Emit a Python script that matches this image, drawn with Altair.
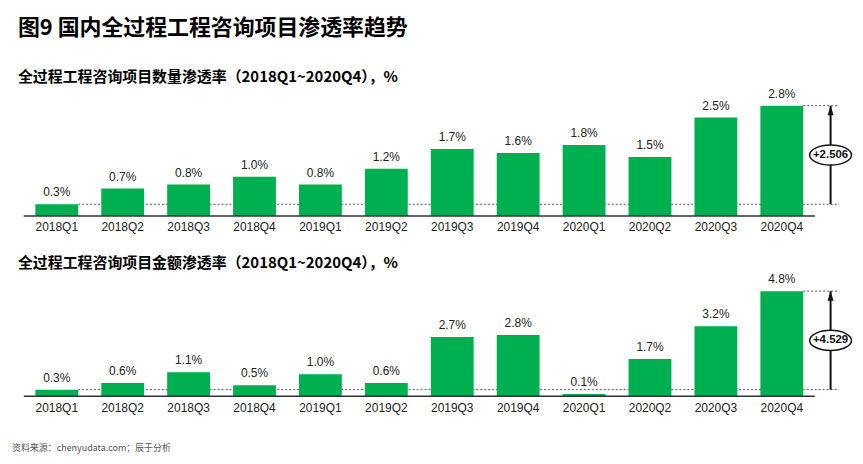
import altair as alt
import pandas as pd

quarters = ["2018Q1", "2018Q2", "2018Q3", "2018Q4", "2019Q1", "2019Q2",
            "2019Q3", "2019Q4", "2020Q1", "2020Q2", "2020Q3", "2020Q4"]
count_rate = [0.3, 0.7, 0.8, 1.0, 0.8, 1.2, 1.7, 1.6, 1.8, 1.5, 2.5, 2.8]
amount_rate = [0.3, 0.6, 1.1, 0.5, 1.0, 0.6, 2.7, 2.8, 0.1, 1.7, 3.2, 4.8]
count_delta = "+2.506"
amount_delta = "+4.529"

main_title = "图9 国内全过程工程咨询项目渗透率趋势"
sub1 = "全过程工程咨询项目数量渗透率（2018Q1~2020Q4），%"
sub2 = "全过程工程咨询项目金额渗透率（2018Q1~2020Q4），%"
source = "资料来源：chenyudata.com；辰于分析"

GREEN = "#00B050"
CJK = "Noto Sans CJK SC"
LATIN = "Liberation Sans"
W = 847
X_DOM = [-0.74, 12.05]
HALF = 0.325
ARROW_X = 11.74
DOT_END = 11.87
TOP_PAD = 8

ELLIPSE = "M-1,0 A1,0.48 0 1,1 1,0 A1,0.48 0 1,1 -1,0 Z"
HEAD = "M0,0 L-0.5,1.6 L0.5,1.6 Z"


def panel(values, delta, height, ydom, label_y, texts):
    xs = alt.Scale(domain=X_DOM, nice=False, zero=False)
    ys = alt.Scale(domain=ydom, nice=False, zero=False)
    n = len(values)
    df = pd.DataFrame({"q": quarters, "v": values, "i": list(range(n))})
    df["lo"] = df["i"] - HALF
    df["hi"] = df["i"] + HALF
    df["lab"] = [f"{v:.1f}%" for v in values]

    base = alt.Chart(df)
    bars = base.mark_bar(color=GREEN).encode(
        x=alt.X("lo:Q", scale=xs, axis=None),
        x2="hi:Q",
        y=alt.Y("v:Q", scale=ys, axis=None),
        y2=alt.datum(0),
    )
    vlabels = base.mark_text(font=LATIN, fontSize=12, color="#222",
                             baseline="bottom", dy=-5).encode(
        x=alt.X("i:Q", scale=xs, axis=None),
        y=alt.Y("v:Q", scale=ys, axis=None),
        text="lab:N",
    )
    xlabels = base.mark_text(font=LATIN, fontSize=12, color="#222",
                             baseline="middle").encode(
        x=alt.X("i:Q", scale=xs, axis=None),
        y=alt.value(label_y),
        text="q:N",
    )
    axis_df = pd.DataFrame({"a": [-0.5], "b": [n - 0.5], "y": [0.0]})
    axis_line = alt.Chart(axis_df).mark_rule(color="#333", strokeWidth=1.5).encode(
        x=alt.X("a:Q", scale=xs, axis=None), x2="b:Q",
        y=alt.Y("y:Q", scale=ys, axis=None),
    )
    dot_df = pd.DataFrame({
        "a": [0 + HALF, (n - 1) + HALF],
        "b": [DOT_END, DOT_END],
        "y": [values[0], values[-1]],
    })
    dots = alt.Chart(dot_df).mark_rule(color="#555", strokeWidth=1,
                                       strokeDash=[2, 2]).encode(
        x=alt.X("a:Q", scale=xs, axis=None), x2="b:Q",
        y=alt.Y("y:Q", scale=ys, axis=None),
    )
    arr_df = pd.DataFrame({"x": [ARROW_X], "y0": [values[0]], "y1": [values[-1]],
                           "mid": [(values[0] + values[-1]) / 2], "t": [delta]})
    arrow = alt.Chart(arr_df).mark_rule(color="#111", strokeWidth=2).encode(
        x=alt.X("x:Q", scale=xs, axis=None),
        y=alt.Y("y0:Q", scale=ys, axis=None), y2="y1:Q",
    )
    head = alt.Chart(arr_df).mark_point(shape=HEAD, filled=True, color="#111",
                                        opacity=1, size=144).encode(
        x=alt.X("x:Q", scale=xs, axis=None),
        y=alt.Y("y1:Q", scale=ys, axis=None),
    )
    ell = alt.Chart(arr_df).mark_point(shape=ELLIPSE, filled=True, fill="white",
                                       stroke="#111", strokeWidth=1.5,
                                       opacity=1, size=1764).encode(
        x=alt.X("x:Q", scale=xs, axis=None),
        y=alt.Y("mid:Q", scale=ys, axis=None),
    )
    ell_t = alt.Chart(arr_df).mark_text(font=LATIN, fontSize=11.5, fontWeight="bold",
                                        color="#111").encode(
        x=alt.X("x:Q", scale=xs, axis=None),
        y=alt.Y("mid:Q", scale=ys, axis=None),
        text="t:N",
    )
    layers = [dots, bars, axis_line, vlabels, xlabels, arrow, head, ell, ell_t]
    for (txt, px, py, size, weight, color, font) in texts:
        t = alt.Chart(pd.DataFrame({"t": [txt]})).mark_text(
            font=font, fontSize=size, fontWeight=weight, color=color,
            align="left", baseline="middle").encode(
            x=alt.value(px), y=alt.value(py), text="t:N")
        layers.append(t)
    return alt.layer(*layers).properties(width=W, height=height)


top_h = 237 - TOP_PAD
top = panel(count_rate, count_delta, top_h, [-0.758, 5.227 - TOP_PAD / 39.6],
            218 - TOP_PAD, [
                (main_title, 10, 18 - TOP_PAD, 22, "bold", "#000", CJK),
                (sub1, 10, 67 - TOP_PAD, 15, "bold", "#000", CJK),
            ])
bottom = panel(amount_rate, amount_delta, 213, [-2.818, 6.864], 163, [
    (sub2, 10, 17, 15, "bold", "#000", CJK),
    (source, 4, 203, 9, "normal", "#555", CJK),
])

chart = alt.vconcat(top, bottom, spacing=0).properties(
    padding={"top": 8, "left": 0, "right": 0, "bottom": 0}
).configure_view(stroke=None)
chart.save("out.html", embed_options={"renderer": "svg", "actions": False})
